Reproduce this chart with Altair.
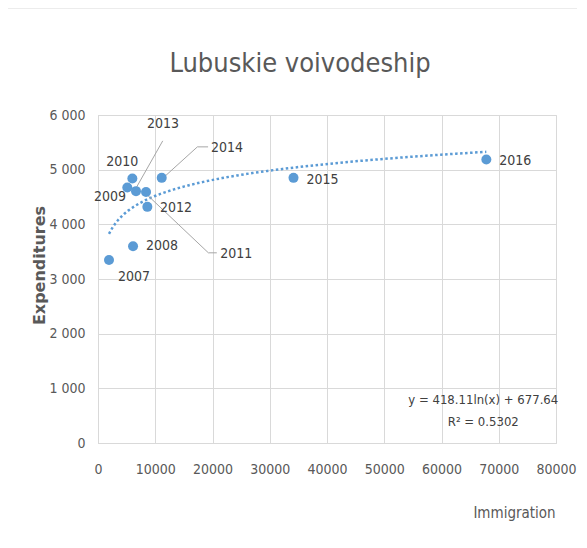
import altair as alt
import pandas as pd

# ---- data ----
years = ["2007", "2008", "2009", "2010", "2011", "2012", "2013", "2014", "2015", "2016"]
immigration = [1920, 6120, 5120, 6000, 8390, 8620, 6640, 11130, 34150, 67830]
expenditures = [3346, 3600, 4675, 4840, 4590, 4320, 4607, 4850, 4850, 5187]

# data-label anchor positions (data units)
label_x = [6290, 11190, 2100, 4250, 24130, 13640, 11360, 22550, 39210, 72900]
label_y = [3035, 3601, 4503, 5132, 3455, 4302, 5832, 5393, 4808, 5161]

# leader lines (data units): label, segment start/end
leader_year = ["2013", "2014", "2014", "2011", "2011"]
leader_x1 = [6640, 11710, 17360, 8510, 19280]
leader_y1 = [4662, 4881, 5417, 4547, 3479]
leader_x2 = [11310, 17360, 19230, 19280, 20750]
leader_y2 = [5527, 5417, 5417, 3479, 3479]

eq_lines = ["y = 418.11ln(x) + 677.64", "R\u00b2 = 0.5302"]
eq_x = [67300, 67300]
eq_y = [786, 389]

x_ticks = [0, 10000, 20000, 30000, 40000, 50000, 60000, 70000, 80000]
y_ticks = [0, 1000, 2000, 3000, 4000, 5000, 6000]

FONT = "DejaVu Sans Condensed, Liberation Sans, sans-serif"
GREY = "#595959"
BLUE = "#5B9BD5"

pts = pd.DataFrame({"year": years, "x": immigration, "y": expenditures})
labs = pd.DataFrame({"year": years, "x": label_x, "y": label_y})
leaders = pd.DataFrame({"year": leader_year, "x": leader_x1, "y": leader_y1,
                        "x2": leader_x2, "y2": leader_y2})
eqs = pd.DataFrame({"t": eq_lines, "x": eq_x, "y": eq_y})

xs = alt.Scale(domain=[0, 80000], nice=False, zero=False)
ys = alt.Scale(domain=[0, 6000], nice=False)

x_axis = alt.Axis(values=x_ticks, format="d", title="Immigration",
                  titleX=416, titleY=69, titleAlign="center", titleBaseline="middle",
                  titleFont=FONT, titleFontSize=15, titleFontWeight="normal", titleColor=GREY,
                  labelFont=FONT, labelFontSize=14, labelColor=GREY, labelPadding=19,
                  ticks=False, grid=True, gridColor="#D9D9D9", domainColor="#D9D9D9",
                  labelFlush=False)
y_axis = alt.Axis(values=y_ticks, title="Expenditures",
                  labelExpr="replace(format(datum.value, ','), ',', ' ')",
                  titleX=-59, titleY=150, titleAlign="center", titleBaseline="middle",
                  titleFont="DejaVu Sans, sans-serif", titleFontSize=16, titleFontWeight="bold",
                  titleColor=GREY, labelFont=FONT, labelFontSize=14, labelColor=GREY,
                  labelPadding=13, ticks=False, grid=True, gridColor="#D9D9D9",
                  domainColor="#D9D9D9")

base = alt.Chart(pts)

trend = base.transform_regression(
    "x", "y", method="log", extent=[min(immigration), max(immigration)]
).mark_line(color=BLUE, strokeWidth=2.5, strokeDash=[2.5, 2.5]).encode(
    x=alt.X("x:Q", scale=xs, axis=x_axis),
    y=alt.Y("y:Q", scale=ys, axis=y_axis),
)

points = base.mark_circle(size=100, color=BLUE, opacity=1).encode(
    x=alt.X("x:Q", scale=xs), y=alt.Y("y:Q", scale=ys)
)

lead = alt.Chart(leaders).mark_rule(color="#A6A6A6", strokeWidth=1).encode(
    x=alt.X("x:Q", scale=xs), y=alt.Y("y:Q", scale=ys),
    x2="x2:Q", y2="y2:Q", detail="year:N"
)

labels = alt.Chart(labs).mark_text(font=FONT, fontSize=14, color="#404040",
                                   align="center", baseline="middle").encode(
    x=alt.X("x:Q", scale=xs), y=alt.Y("y:Q", scale=ys), text="year:N"
)

eq = alt.Chart(eqs).mark_text(font=FONT, fontSize=13, color="#404040",
                              align="center", baseline="middle").encode(
    x=alt.X("x:Q", scale=xs), y=alt.Y("y:Q", scale=ys), text="t:N"
)

title = alt.Chart(pd.DataFrame({"t": ["Lubuskie voivodeship"]})).mark_text(
    font=FONT, fontSize=27, color=GREY, align="center", baseline="alphabetic"
).encode(x=alt.value(202), y=alt.value(-43), text="t:N")

border = alt.Chart(pd.DataFrame({"a": [0]})).mark_rule(color="#D9D9D9", strokeWidth=1).encode(
    x=alt.value(-91), x2=alt.value(600), y=alt.value(-107)
)
border_l = alt.Chart(pd.DataFrame({"a": [0]})).mark_rule(color="#D9D9D9", strokeWidth=1).encode(
    x=alt.value(-91), y=alt.value(-107), y2=alt.value(500)
)

chart = alt.layer(trend, lead, points, labels, eq, title, border, border_l).properties(
    width=458, height=328,
    autosize=alt.AutoSizeParams(type="none"),
    padding={"left": 90, "top": 107, "right": 21, "bottom": 97},
).configure_view(stroke=None).configure(background="white")

chart.save("out.html", embed_options={"renderer": "svg", "actions": False})
